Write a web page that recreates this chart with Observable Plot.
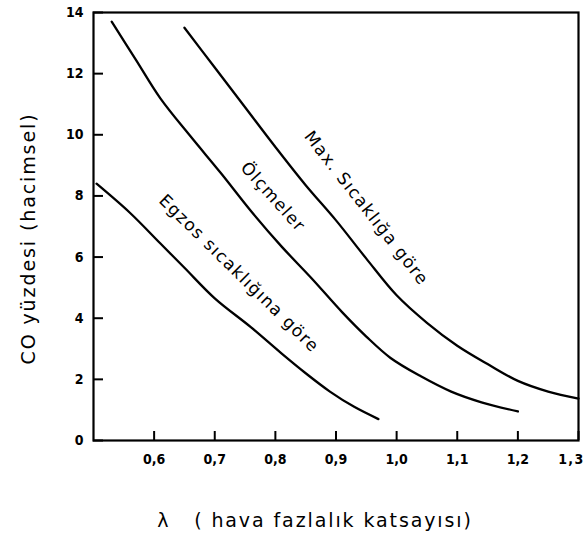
<!DOCTYPE html>
<html><head><meta charset="utf-8">
<script src="https://cdn.jsdelivr.net/npm/d3@7"></script>
<script src="https://cdn.jsdelivr.net/npm/@observablehq/plot@0.6"></script>
<style>
body{margin:0;background:#fff}
g[aria-label="text"] text{letter-spacing:1.3px}
g.title text{letter-spacing:1.9px}
</style>
</head><body><div id="chart"></div>
<script>
// Egzos sıcaklığına göre
const egzosLambda = [0.505, 0.56, 0.61, 0.65, 0.70, 0.76, 0.81, 0.85, 0.89, 0.93, 0.97];
const egzosCO     = [8.4, 7.45, 6.45, 5.65, 4.65, 3.7, 2.85, 2.2, 1.6, 1.1, 0.7];
// Ölçmeler
const olcLambda = [0.53, 0.57, 0.61, 0.66, 0.71, 0.76, 0.81, 0.86, 0.91, 0.95, 0.99, 1.04, 1.09, 1.14, 1.20];
const olcCO     = [13.7, 12.45, 11.2, 9.95, 8.75, 7.5, 6.35, 5.3, 4.2, 3.4, 2.7, 2.1, 1.6, 1.25, 0.95];
// Max. Sıcaklığa göre
const maxLambda = [0.65, 0.70, 0.75, 0.80, 0.85, 0.90, 0.95, 1.00, 1.05, 1.10, 1.15, 1.20, 1.25, 1.30];
const maxCO     = [13.5, 12.2, 10.9, 9.6, 8.35, 7.2, 5.95, 4.75, 3.85, 3.1, 2.5, 1.95, 1.6, 1.37];

const xTicks = [0.6, 0.7, 0.8, 0.9, 1.0, 1.1, 1.2, 1.3];
const yTicks = [0, 2, 4, 6, 8, 10, 12, 14];

const curveLabels = ["Egzos sıcaklığına göre", "Ölçmeler", "Max. Sıcaklığa göre"];
const labelLambda = [0.740, 0.796, 0.950];
const labelCO = [5.46, 7.97, 7.6];
const labelAngle = [44.5, 48, 52];

const yTitle = "CO yüzdesi (hacimsel)";
const xTitle = "λ\u00a0\u00a0\u00a0( hava fazlalık katsayısı)";

const toRows = (xs, ys) => xs.map((x, i) => ({x, y: ys[i]}));
const series = [toRows(egzosLambda, egzosCO), toRows(olcLambda, olcCO), toRows(maxLambda, maxCO)];
const labels = curveLabels.map((t, i) => ({t, x: labelLambda[i], y: labelCO[i], a: labelAngle[i]}));

const W = 585, H = 543, mL = 93, mR = 7, mT = 12, mB = 103;
const tickFont = "'Liberation Sans Narrow', 'DejaVu Sans Condensed', sans-serif";
const fmtX = d => d3.format(".1f")(d).replace(".", ",");
const lastX = xTicks[xTicks.length - 1];

const chart = Plot.plot({
  width: W, height: H,
  marginLeft: mL, marginRight: mR, marginTop: mT, marginBottom: mB,
  style: {background: "#fff", color: "#000"},
  x: {domain: [0.5, 1.3]},
  y: {domain: [0, 14]},
  marks: [
    Plot.axisX(xTicks.slice(0, -1), {tickSize: 0, tickPadding: 14, tickFormat: fmtX,
      fontWeight: "bold", fontSize: 14, fontFamily: tickFont, label: null}),
    Plot.text([lastX], {x: d => d, frameAnchor: "bottom", dy: 14, dx: 6, text: fmtX, textAnchor: "end",
      lineAnchor: "top", fontWeight: "bold", fontSize: 14, fontFamily: tickFont, fill: "#000"}),
    Plot.axisY(yTicks, {tickSize: 0, tickPadding: 10, tickFormat: d => String(d),
      fontWeight: "bold", fontSize: 14, fontFamily: tickFont, label: null}),
    Plot.tickX(xTicks, {x: d => d, insetTop: H - mT - mB - 9, stroke: "#000", strokeWidth: 2}),
    Plot.ruleY(yTicks, {y: d => d, x1: 0.5, x2: 0.5165, stroke: "#000", strokeWidth: 2}),
    Plot.frame({stroke: "#000", strokeWidth: 2.2}),
    ...series.map(s => Plot.line(s, {x: "x", y: "y", curve: "catmull-rom", stroke: "#000", strokeWidth: 2.3})),
    Plot.text(labels, {x: "x", y: "y", text: "t", rotate: "a", fontSize: 17,
      fontFamily: "'DejaVu Sans', sans-serif", fill: "#000", textAnchor: "middle", lineAnchor: "middle"}),
    Plot.text([yTitle], {frameAnchor: "left", dx: -65, dy: 12, rotate: -90, fontSize: 19, textAnchor: "middle",
      fontFamily: "'DejaVu Sans', sans-serif", fill: "#000", lineAnchor: "middle", className: "title"}),
    Plot.text([xTitle], {frameAnchor: "bottom", dx: -21, dy: 80, fontSize: 19, textAnchor: "middle",
      fontFamily: "'DejaVu Sans', sans-serif", fill: "#000", lineAnchor: "middle", className: "title"})
  ]
});
document.getElementById("chart").append(chart);
</script>
</body></html>
